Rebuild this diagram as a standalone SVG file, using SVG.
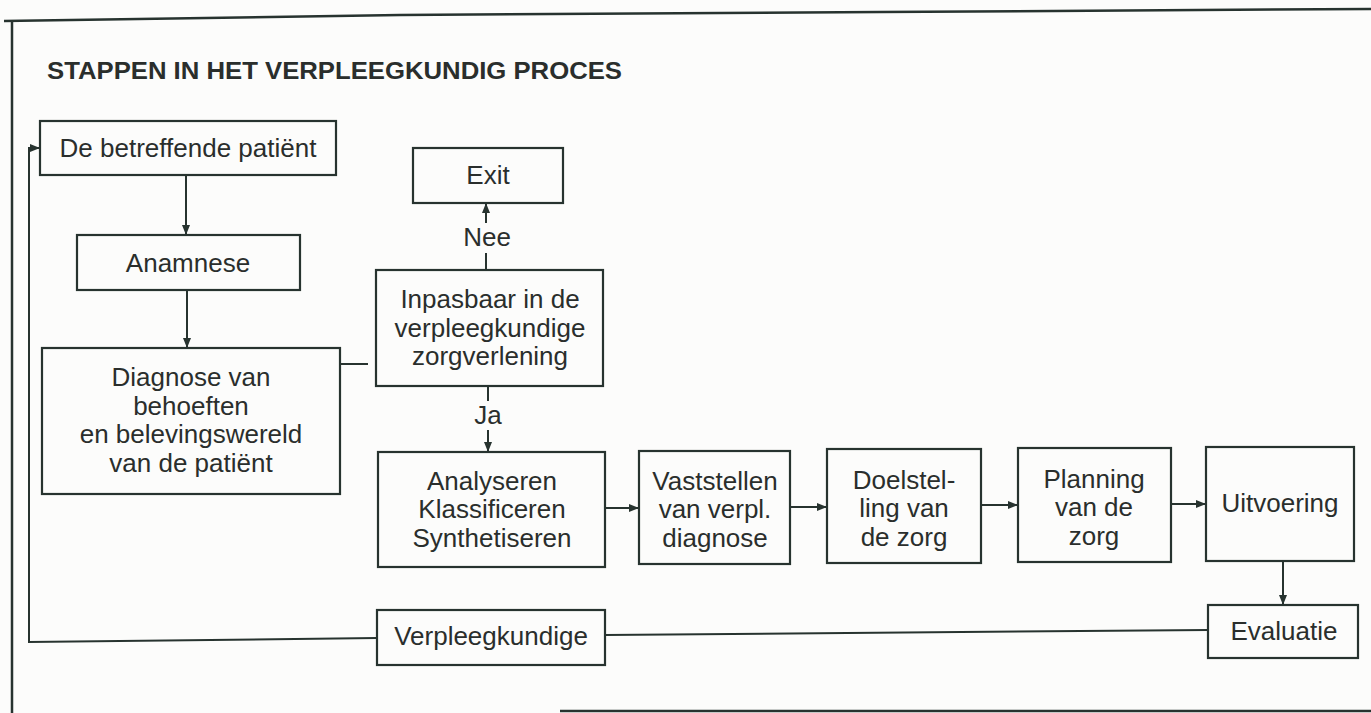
<svg xmlns="http://www.w3.org/2000/svg" width="1371" height="713" viewBox="0 0 1371 713">
<style>
.bg{fill:#fcfcfb}
.frame{fill:none;stroke:#27332f;stroke-width:2.5}
.box{fill:none;stroke:#27332f;stroke-width:2.2}
.ln{fill:none;stroke:#27332f;stroke-width:2}
.t{font-family:"Liberation Sans",Arial,sans-serif;font-size:26px;fill:#2a2e2c;text-anchor:middle}
.title{font-family:"Liberation Sans",Arial,sans-serif;font-size:24px;font-weight:bold;fill:#2a2e2c}
</style>
<defs>
<marker id="arr" markerUnits="userSpaceOnUse" markerWidth="10" markerHeight="8" refX="10" refY="4" orient="auto">
<path d="M0,0 L10,4 L0,8 z" fill="#27332f"/>
</marker>
</defs>
<rect class="bg" x="0" y="0" width="1371" height="713"/>
<g id="frame">
<polyline class="frame" points="4,21 400,15 880,12 1371,9"/>
<line class="frame" x1="12" y1="20" x2="12" y2="713"/>
<line class="frame" x1="560" y1="711" x2="1371" y2="711"/>
</g>
<text class="title" x="47" y="79" textLength="575" lengthAdjust="spacingAndGlyphs">STAPPEN IN HET VERPLEEGKUNDIG PROCES</text>
<g id="connectors">
<line class="ln" x1="186" y1="175" x2="186" y2="235" marker-end="url(#arr)"/>
<line class="ln" x1="187" y1="290" x2="187" y2="348" marker-end="url(#arr)"/>
<line class="ln" x1="340" y1="364" x2="368" y2="364"/>
<line class="ln" x1="486" y1="270" x2="486" y2="253"/>
<line class="ln" x1="486" y1="223" x2="486" y2="203" marker-end="url(#arr)"/>
<text class="t" x="487" y="246">Nee</text>
<line class="ln" x1="488" y1="386" x2="488" y2="401"/>
<line class="ln" x1="488" y1="430" x2="488" y2="452" marker-end="url(#arr)"/>
<text class="t" x="488" y="424">Ja</text>
<line class="ln" x1="605" y1="508" x2="639" y2="508" marker-end="url(#arr)"/>
<line class="ln" x1="790" y1="507" x2="827" y2="507" marker-end="url(#arr)"/>
<line class="ln" x1="981" y1="505" x2="1018" y2="505" marker-end="url(#arr)"/>
<line class="ln" x1="1171" y1="504" x2="1206" y2="504" marker-end="url(#arr)"/>
<line class="ln" x1="1283" y1="561" x2="1283" y2="605" marker-end="url(#arr)"/>
<line class="ln" x1="1208" y1="630" x2="605" y2="635"/>
<polyline class="ln" points="377,638 29,642 29,148 40,148" marker-end="url(#arr)"/>
</g>
<g id="n-patient">
<rect class="box" x="40" y="121" width="296" height="54"/>
<text class="t" x="188" y="157">De betreffende patiënt</text>
</g>
<g id="n-anamnese">
<rect class="box" x="77" y="235" width="223" height="55"/>
<text class="t" x="188" y="272">Anamnese</text>
</g>
<g id="n-diagnose">
<rect class="box" x="42" y="348" width="298" height="146"/>
<text class="t" x="191" y="386">Diagnose van</text>
<text class="t" x="191" y="414.5">behoeften</text>
<text class="t" x="191" y="443">en belevingswereld</text>
<text class="t" x="191" y="471.5">van de patiënt</text>
</g>
<g id="n-exit">
<rect class="box" x="413" y="148" width="150" height="55"/>
<text class="t" x="488" y="184">Exit</text>
</g>
<g id="n-inpasbaar">
<rect class="box" x="376" y="270" width="227" height="116"/>
<text class="t" x="490" y="308">Inpasbaar in de</text>
<text class="t" x="490" y="337">verpleegkundige</text>
<text class="t" x="490" y="365">zorgverlening</text>
</g>
<g id="n-analyseren">
<rect class="box" x="378" y="452" width="227" height="115"/>
<text class="t" x="492" y="490">Analyseren</text>
<text class="t" x="492" y="518">Klassificeren</text>
<text class="t" x="492" y="547">Synthetiseren</text>
</g>
<g id="n-vaststellen">
<rect class="box" x="639" y="451" width="151" height="113"/>
<text class="t" x="715" y="490">Vaststellen</text>
<text class="t" x="715" y="518">van verpl.</text>
<text class="t" x="715" y="547">diagnose</text>
</g>
<g id="n-doelstelling">
<rect class="box" x="827" y="449" width="154" height="114"/>
<text class="t" x="904" y="489">Doelstel-</text>
<text class="t" x="904" y="517">ling van</text>
<text class="t" x="904" y="546">de zorg</text>
</g>
<g id="n-planning">
<rect class="box" x="1018" y="448" width="153" height="114"/>
<text class="t" x="1094" y="488">Planning</text>
<text class="t" x="1094" y="516">van de</text>
<text class="t" x="1094" y="545">zorg</text>
</g>
<g id="n-uitvoering">
<rect class="box" x="1206" y="447" width="148" height="114"/>
<text class="t" x="1280" y="512">Uitvoering</text>
</g>
<g id="n-evaluatie">
<rect class="box" x="1208" y="605" width="150" height="53"/>
<text class="t" x="1284" y="640">Evaluatie</text>
</g>
<g id="n-verpleegkundige">
<rect class="box" x="377" y="610" width="228" height="55"/>
<text class="t" x="491" y="645">Verpleegkundige</text>
</g>
</svg>
